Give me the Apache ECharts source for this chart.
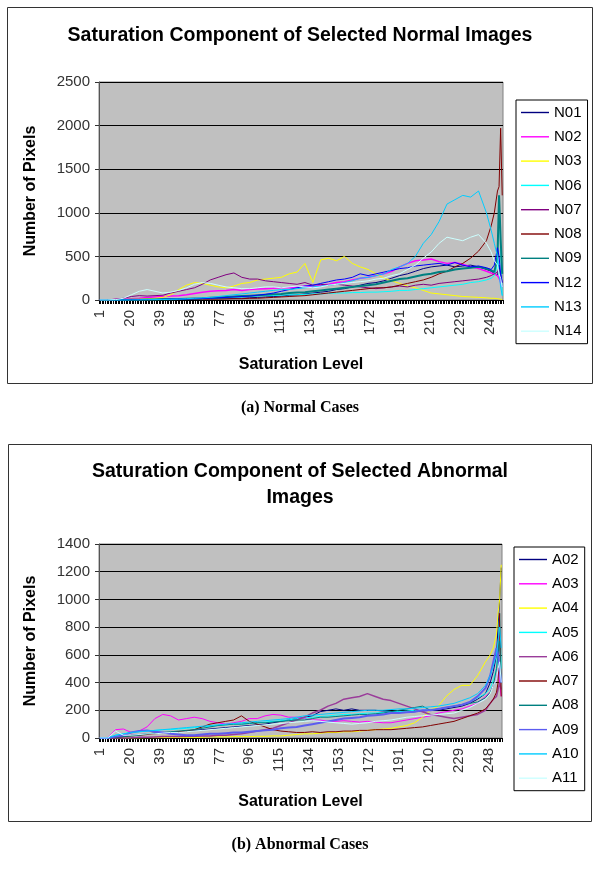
<!DOCTYPE html>
<html>
<head>
<meta charset="utf-8">
<script src="https://cdn.jsdelivr.net/npm/echarts@6/dist/echarts.min.js"></script>
<style>html,body{margin:0;padding:0;background:#fff}#c{width:600px;height:874px}</style>
</head>
<body>
<div id="c"></div>
<script>
// Saturation levels at which values were read
const sampleLevels = [1,6,11,16,21,26,31,36,41,46,51,56,61,66,71,76,81,86,91,96,101,106,111,116,121,126,131,136,141,146,151,156,161,166,171,176,181,186,191,196,201,206,211,216,221,226,231,236,241,246,249,251,253,254,255,256];

// ---- Normal images ----
const N01 = [0,0,2,3,5,5,6,8,8,10, 10,12,12,15,15,18,20,20,22,25, 30,35,40,45,55,60,70,80,90,100, 120,130,150,170,190,200,220,250,280,300, 330,360,380,390,400,380,390,400,380,350, 330,300,280,400,250,150];
const N02 = [0,0,5,10,15,20,30,35,40,45, 50,60,75,90,100,105,110,120,110,120, 125,130,135,140,140,150,160,150,170,180, 200,210,230,250,260,280,300,330,380,420, 450,460,470,440,420,430,410,380,360,330, 310,300,280,250,200,150];
const N03 = [0,0,0,5,10,10,15,20,30,60, 120,170,200,190,170,150,140,160,190,200, 230,240,250,260,300,320,420,200,460,480, 450,500,420,380,350,300,250,220,190,160, 140,110,80,70,60,50,40,35,30,25, 20,20,15,10,10,5];
const N06 = [0,0,0,2,3,5,5,8,10,10, 12,15,15,20,20,25,25,30,35,40, 45,50,50,55,60,60,65,70,70,75, 80,80,85,85,90,90,95,100,110,110, 120,130,140,150,160,170,180,200,210,230, 250,280,400,1100,600,50];
const N07 = [0,0,10,20,40,50,45,50,55,80, 100,120,140,180,230,260,290,310,260,240, 240,220,210,200,190,180,200,170,180,170, 180,170,160,150,140,130,140,150,160,150, 170,180,170,190,200,210,220,230,240,260, 280,300,320,350,300,200];
const N08 = [0,0,0,0,2,3,3,5,5,5, 5,8,8,10,10,10,12,15,15,20, 20,25,30,35,40,45,50,60,70,80, 90,100,110,120,130,140,140,150,170,190, 210,230,260,300,330,380,420,480,560,680, 850,1000,1250,1300,1970,1200];
const N09 = [0,0,0,0,2,3,5,5,8,10, 12,15,18,20,25,30,35,40,45,50, 55,60,65,70,80,85,90,100,110,120, 130,140,150,160,170,180,200,220,240,250, 270,290,300,320,330,350,360,370,380,360, 340,320,500,1200,700,300];
const N12 = [0,0,0,0,2,3,5,5,8,10, 10,12,15,18,20,25,30,35,40,45, 55,65,80,100,120,140,160,170,190,210, 230,240,260,300,280,300,320,340,360,370, 390,400,410,420,400,430,400,380,390,370, 350,400,600,500,300,200];
const N13 = [0,0,0,0,0,2,3,5,5,8, 10,15,20,25,30,40,50,60,70,80, 90,100,110,120,120,130,140,150,160,170, 180,200,220,250,260,280,300,350,380,420, 500,650,750,900,1100,1150,1200,1180,1250,1000, 800,650,500,300,150,50];
const N14 = [0,0,5,20,60,100,120,100,80,90, 110,140,180,200,190,170,150,140,130,130, 140,150,150,140,150,160,150,140,150,170, 180,190,200,210,220,240,250,280,300,350, 400,480,550,650,720,700,680,720,750,650, 550,450,400,300,250,150];

// ---- Abnormal images ----
const A02 = [0,0,5,10,20,25,30,35,40,40, 45,50,55,60,65,70,75,80,85,90, 95,100,110,120,130,140,150,160,190,200, 210,200,210,200,200,200,195,190,190,185, 190,195,200,200,210,220,230,250,280,320, 400,480,600,800,1000,1230];
const A03 = [0,0,60,65,40,50,80,140,170,160, 130,140,150,140,120,110,100,110,120,140, 140,160,170,165,150,150,140,130,130,120, 120,125,120,115,120,115,110,110,120,130, 140,150,160,180,190,200,210,230,250,300, 330,380,420,500,400,300];
const A04 = [0,0,0,0,0,0,2,2,3,3, 5,5,5,5,8,8,8,10,10,10, 12,12,15,15,20,25,30,30,35,40, 40,45,45,50,55,60,65,70,80,90, 110,150,200,230,300,350,380,380,450,550, 600,650,750,900,1000,1250];
const A05 = [0,0,20,30,40,45,50,55,60,60, 65,70,75,80,85,90,95,100,100,105, 110,115,120,125,130,140,145,150,155,160, 165,170,170,175,180,180,185,190,190,195, 200,200,205,210,220,230,240,260,290,320, 360,420,500,650,900,500];
const A06 = [0,0,0,0,2,5,5,8,10,10, 10,12,12,15,15,20,20,25,30,40, 50,60,70,90,110,130,150,180,200,230, 250,280,290,300,320,300,280,270,250,230, 210,190,170,160,150,140,150,160,170,200, 250,280,300,350,400,350];
const A07 = [0,0,5,10,15,20,25,30,35,40, 45,50,60,80,100,110,120,130,160,120, 100,80,60,50,45,40,40,45,40,45, 45,50,50,55,55,60,60,60,65,70, 75,80,90,100,110,120,140,160,180,210, 250,280,330,400,900,300];
const A08 = [0,0,5,10,15,20,30,35,40,45, 50,55,60,70,80,90,95,100,100,105, 110,110,115,120,125,130,130,140,150,150, 155,160,165,170,170,175,180,190,200,210, 220,230,200,210,220,230,240,250,260,290, 330,380,500,600,700,400];
const A09 = [0,0,10,20,40,50,55,45,40,30, 25,20,20,25,30,30,35,40,40,45, 50,55,60,70,75,80,90,100,110,120, 130,140,145,150,160,165,170,180,180,185, 190,200,200,210,220,230,240,260,300,360, 450,550,650,600,500,400];
const A10 = [0,0,20,30,40,45,50,55,60,65, 70,75,80,85,90,95,100,105,110,115, 120,125,130,135,140,150,160,165,170,175, 180,185,190,195,200,200,200,205,210,210, 215,220,225,230,240,250,270,290,320,380, 450,520,600,700,800,650];
const A11 = [0,0,50,20,20,25,30,30,35,40, 40,45,50,55,60,65,70,75,80,85, 90,95,100,105,110,115,120,125,120,115, 110,105,100,105,110,120,125,130,140,150, 155,160,165,170,175,180,200,220,250,280, 320,380,420,500,550,400];

const normalNames = ['N01','N02','N03','N06','N07','N08','N09','N12','N13','N14'];
const normalValues = [N01,N02,N03,N06,N07,N08,N09,N12,N13,N14];
const abnormalNames = ['A02','A03','A04','A05','A06','A07','A08','A09','A10','A11'];
const abnormalValues = [A02,A03,A04,A05,A06,A07,A08,A09,A10,A11];
const normalYTicks = [0, 2500, 500];
const abnormalYTicks = [0, 1400, 200];

const levelCategories = Array.from({length: 256}, (_, i) => String(i + 1));

const normalColors = ['#000080','#ff00ff','#ffff00','#00ffff','#800080','#800000','#008080','#0000ff','#00ccff','#ccffff'];
const abnormalColors = ['#000080','#ff00ff','#ffff00','#00ffff','#9a3c9a','#800000','#008080','#5c5cf0','#00ccff','#ccffff'];
const normalWidths = [1,1.5,1,1,1,1,2,1,1,1];
const abnormalWidths = [1,1,1,1,1.5,1,1,2,1,1];

const chart = echarts.init(document.getElementById('c'), null, {renderer: 'canvas'});
const F = 'Liberation Sans, Arial, sans-serif';

function xAxisCfg(gridIndex, nameGap) {
  return {
    type: 'category', gridIndex, data: levelCategories, boundaryGap: true,
    name: 'Saturation Level', nameLocation: 'middle', nameGap,
    nameTextStyle: {fontFamily: F, fontSize: 16, fontWeight: 'bold', color: '#000'},
    axisLine: {show: true, lineStyle: {color: '#000', width: 1}},
    axisTick: {show: true, interval: 0, length: 4, lineStyle: {color: '#000', width: 1}},
    axisLabel: {interval: 18, rotate: 90, margin: 10, fontFamily: F, fontSize: 15, color: '#333'},
    splitLine: {show: false}
  };
}
function yAxisCfg(gridIndex, ticks) {
  return {
    type: 'value', gridIndex, min: ticks[0], max: ticks[1], interval: ticks[2],
    name: 'Number of Pixels', nameLocation: 'middle', nameGap: 60,
    nameTextStyle: {fontFamily: F, fontSize: 16, fontWeight: 'bold', color: '#000'},
    axisLine: {show: true, lineStyle: {color: '#555', width: 1}},
    axisTick: {show: true, length: 4, lineStyle: {color: '#333'}},
    axisLabel: {margin: 9, fontFamily: F, fontSize: 15, color: '#333', formatter: v => String(v)},
    splitLine: {show: true, lineStyle: {color: '#000', width: 1}}
  };
}
function seriesFor(names, values, colors, widths, idx) {
  return names.map((n, k) => ({
    name: n, type: 'line', xAxisIndex: idx, yAxisIndex: idx,
    symbol: 'none', showSymbol: false,
    lineStyle: {color: colors[k], width: widths[k]},
    itemStyle: {color: colors[k]},
    data: sampleLevels.map((lv, i) => [lv - 1, values[k][i]])
  }));
}
function legendCfg(names, left, top) {
  return {
    data: names, orient: 'vertical', left, top,
    icon: 'path://M0,0H100V5H0Z',
    padding: [5, 6, 5, 5], itemGap: 9.3, itemWidth: 28, itemHeight: 14,
    backgroundColor: '#fff', borderColor: '#000', borderWidth: 1,
    textStyle: {fontFamily: F, fontSize: 15, color: '#000'}
  };
}
const titleStyle = {fontFamily: F, fontSize: 19.5, fontWeight: 'bold', color: '#000'};

chart.setOption({
  animation: false,
  backgroundColor: '#fff',
  title: [
    {text: 'Saturation Component of Selected Normal Images', left: 'center', top: 21, textStyle: titleStyle},
    {text: 'Saturation Component of Selected Abnormal', left: 'center', top: 457, textStyle: titleStyle},
    {text: 'Images', left: 'center', top: 483, textStyle: titleStyle}
  ],
  grid: [
    {left: 99, top: 82, width: 404, height: 218, show: true, backgroundColor: '#c0c0c0', borderColor: '#808080', borderWidth: 1},
    {left: 99, top: 544, width: 403, height: 194, show: true, backgroundColor: '#c0c0c0', borderColor: '#808080', borderWidth: 1}
  ],
  legend: [legendCfg(normalNames, 516, 100), legendCfg(abnormalNames, 514, 547)],
  xAxis: [xAxisCfg(0, 57), xAxisCfg(1, 56)],
  yAxis: [yAxisCfg(0, normalYTicks), yAxisCfg(1, abnormalYTicks)],
  series: [].concat(
    seriesFor(normalNames, normalValues, normalColors, normalWidths, 0),
    seriesFor(abnormalNames, abnormalValues, abnormalColors, abnormalWidths, 1)
  ),
  graphic: [
    {type: 'rect', shape: {x: 7.5, y: 7.5, width: 585, height: 376}, style: {fill: 'none', stroke: '#333', lineWidth: 1}, silent: true, z: -1},
    {type: 'rect', shape: {x: 8.5, y: 444.5, width: 583, height: 377}, style: {fill: 'none', stroke: '#333', lineWidth: 1}, silent: true, z: -1},
    {type: 'text', x: 300, y: 408, style: {text: '(a) Normal Cases', textAlign: 'center', textVerticalAlign: 'middle', font: 'bold 16px "Liberation Serif", "Times New Roman", serif', fill: '#000'}},
    {type: 'text', x: 300, y: 845, style: {text: '(b) Abnormal Cases', textAlign: 'center', textVerticalAlign: 'middle', font: 'bold 16px "Liberation Serif", "Times New Roman", serif', fill: '#000'}}
  ]
});
</script>
</body>
</html>
